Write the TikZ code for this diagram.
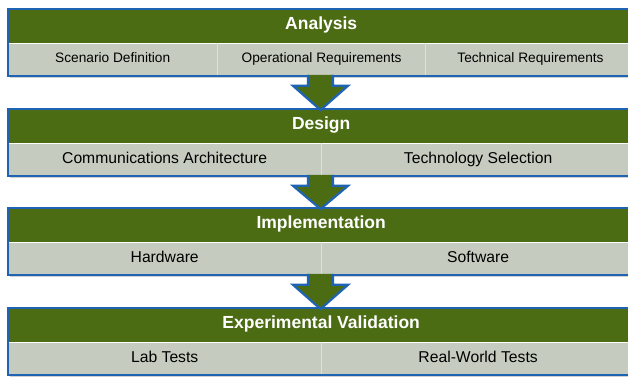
\documentclass[tikz,border=0pt]{standalone}
\usepackage{fontspec}
\setmainfont{Liberation Sans}
\usetikzlibrary{calc}
\definecolor{hdrgreen}{HTML}{4C6C14}
\definecolor{rowgray}{HTML}{C5CCBF}
\definecolor{edgeblue}{HTML}{1F64B4}
\definecolor{divline}{HTML}{DDE2D6}
\tikzset{
  hdr/.style={fill=hdrgreen, text=white, inner sep=0pt, anchor=north west,
    minimum width=626pt, minimum height=34pt, text height=1.7ex, text depth=0.3ex,
    font=\fontsize{17.5}{20}\selectfont\bfseries},
  cell/.style={fill=rowgray, text=black, inner sep=0pt, anchor=north west,
    minimum height=32pt},
  cellsmall/.style={cell, font=\fontsize{13.7}{16}\selectfont,
    text height=1.5ex, text depth=0.3ex},
  cellbig/.style={cell, font=\fontsize{15.7}{18}\selectfont,
    text height=1.62ex, text depth=0.3ex},
  blockedge/.style={draw=edgeblue, line width=2.4pt},
  divider/.style={draw=divline, line width=1.2pt},
  shade/.style={fill=black!18},
  flowarrow/.style={fill=hdrgreen, draw=edgeblue, line width=2.2pt, line join=miter},
}
\begin{document}
\begin{tikzpicture}[x=1pt,y=-1pt]
\useasboundingbox (0,0) rectangle (628,376);
\clip (0,0) rectangle (628,376);
\fill[white] (0,0) rectangle (628,376);

% shadows
\foreach \t in {9,109,208,308}{
  \fill[shade] (10,\t+67) rectangle (640,\t+69);
}

% Block 1
\node[hdr] (a) at (8,9) {Analysis};
\node[cellsmall, minimum width=209pt] (a1) at (a.south west) {Scenario Definition};
\node[cellsmall, minimum width=208pt] (a2) at (a1.north east) {Operational Requirements};
\node[cellsmall, minimum width=209pt] (a3) at (a2.north east) {Technical Requirements};
\draw[divider] (a1.north east) -- (a1.south east);
\draw[divider] (a2.north east) -- (a2.south east);
\draw[blockedge] (a.north west) rectangle (a3.south east);

% Block 2
\node[hdr] (d) at (8,109) {Design};
\node[cellbig, minimum width=313pt] (d1) at (d.south west) {Communications Architecture};
\node[cellbig, minimum width=313pt] (d2) at (d1.north east) {Technology Selection};
\draw[divider] (d1.north east) -- (d1.south east);
\draw[blockedge] (d.north west) rectangle (d2.south east);

% Block 3
\node[hdr] (i) at (8,208) {Implementation};
\node[cellbig, minimum width=313pt] (i1) at (i.south west) {Hardware};
\node[cellbig, minimum width=313pt] (i2) at (i1.north east) {Software};
\draw[divider] (i1.north east) -- (i1.south east);
\draw[blockedge] (i.north west) rectangle (i2.south east);

% Block 4
\node[hdr] (e) at (8,308) {Experimental Validation};
\node[cellbig, minimum width=313pt] (e1) at (e.south west) {Lab Tests};
\node[cellbig, minimum width=313pt] (e2) at (e1.north east) {Real-World Tests};
\draw[divider] (e1.north east) -- (e1.south east);
\draw[blockedge] (e.north west) rectangle (e2.south east);

% Block arrows
\foreach \src/\dst in {a2/d, d1/i, i1/e}{
  \path let \p1 = (\src.south), \p2 = (\dst.north) in
    coordinate (top) at (320.5,\y1)
    coordinate (tip) at (320.5,\y2);
  \filldraw[flowarrow]
    ($(top)+(-12.5,-1)$) -- ($(top)+(-12.5,10)$) -- ($(top)+(-27.5,10)$)
    -- ($(tip)+(0,1)$) -- ($(top)+(27.5,10)$) -- ($(top)+(12.5,10)$)
    -- ($(top)+(12.5,-1)$);
}
\end{tikzpicture}
\end{document}
